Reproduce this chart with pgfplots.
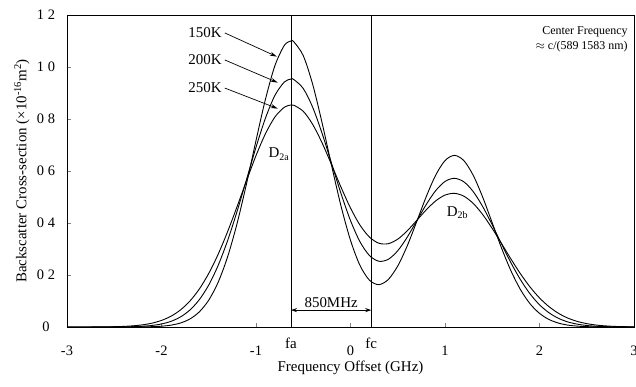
\documentclass[border=0pt]{standalone}
\usepackage{amsmath}
\usepackage{fontspec}
\setmainfont{Liberation Serif}
\usepackage{pgfplots}
\usepackage{pgfplotstable}
\pgfplotsset{compat=1.18}
\usetikzlibrary{arrows.meta}

\pgfplotstableread{
x a b c
-3.0 0 0 0
-2.8 0 0 0.0001
-2.6 0 0.0001 0.0006
-2.5 0 0.0003 0.0012
-2.4 0.0001 0.0006 0.0024
-2.3 0.0002 0.0014 0.0046
-2.2 0.0005 0.0029 0.0084
-2.1 0.0013 0.0060 0.0148
-2.0 0.0031 0.0117 0.0253
-1.9 0.0071 0.0217 0.0414
-1.8 0.0153 0.0385 0.0654
-1.7 0.0307 0.0651 0.0995
-1.6 0.0582 0.1050 0.1460
-1.5 0.1033 0.1616 0.2061
-1.4 0.1725 0.2374 0.2802
-1.3 0.2705 0.3328 0.3672
-1.2 0.3985 0.4450 0.4633
-1.1 0.5515 0.5678 0.5631
-1.0 0.7171 0.6914 0.6592
-0.9 0.8759 0.8033 0.7434
-0.8 1.0050 0.8907 0.8076
-0.7 1.0833 0.9424 0.8454
-0.63 1.1000 0.9535 0.8539
-0.6 1.0970 0.9517 0.8529
-0.5 1.0436 0.9174 0.8296
-0.4 0.9330 0.8448 0.7791
-0.3 0.7842 0.7441 0.7076
-0.2 0.6206 0.6287 0.6239
-0.1 0.4646 0.5129 0.5374
0.0 0.3333 0.4094 0.4576
0.1 0.2370 0.3281 0.3921
0.2 0.1803 0.2751 0.3460
0.3 0.1630 0.2529 0.3222
0.4 0.1828 0.2604 0.3205
0.5 0.2347 0.2934 0.3379
0.6 0.3118 0.3453 0.3698
0.7 0.4047 0.4075 0.4095
0.8 0.5000 0.4703 0.4500
0.9 0.5831 0.5238 0.4846
1.0 0.6400 0.5597 0.5073
1.1 0.6601 0.5719 0.5141
1.2 0.6397 0.5582 0.5031
1.3 0.5824 0.5201 0.4748
1.4 0.4982 0.4625 0.4320
1.5 0.4003 0.3924 0.3788
1.6 0.3021 0.3178 0.3198
1.7 0.2143 0.2456 0.2602
1.8 0.1428 0.1811 0.2039
1.9 0.0893 0.1274 0.1539
2.0 0.0525 0.0855 0.1119
2.1 0.0290 0.0548 0.0784
2.2 0.0151 0.0335 0.0528
2.3 0.0073 0.0195 0.0343
2.4 0.0034 0.0109 0.0215
2.5 0.0014 0.0058 0.0130
2.6 0.0006 0.0029 0.0075
2.7 0.0002 0.0014 0.0042
2.8 0.0001 0.0007 0.0023
2.9 0 0.0003 0.0012
3.0 0 0.0001 0.0006
}\datatable

\begin{document}
\begin{tikzpicture}
\begin{axis}[
  scale only axis, width=567bp, height=312bp,
  xmin=-3, xmax=3, ymin=0, ymax=1.2,
  xtick={-3,-2,-1,0,1,2,3},
  xticklabels={-3,-2,-1,0,1,2,3},
  ytick={0,0.2,0.4,0.6,0.8,1.0,1.2},
  yticklabels={0,0 2,0 4,0 6,0 8,1 0,1 2},
  tick align=inside, xtick pos=bottom, ytick pos=left,
  major tick length=4bp,
  ticklabel style={font=\fontsize{14.5}{16}\selectfont},
  xticklabel style={yshift=-15bp},
  yticklabel style={anchor=center, xshift=-21bp},
  xlabel={Frequency Offset (GHz)},
  ylabel={Backscatter Cross-section (\texttimes10\textsuperscript{-16}m\textsuperscript{2})},
  label style={font=\fontsize{15}{18}\selectfont},
  xlabel style={at={(axis description cs:0.5,-0.1314)}, anchor=center},
  ylabel style={at={(axis description cs:-0.0794,0.5)}, anchor=center},
  axis line style={line width=0.8bp},
  clip=false,
]
\addplot[black, line width=0.9bp, smooth, no marks] table[x=x, y=a] {\datatable};
\addplot[black, line width=0.9bp, smooth, no marks] table[x=x, y=b] {\datatable};
\addplot[black, line width=0.9bp, smooth, no marks] table[x=x, y=c] {\datatable};
\draw[line width=0.8bp] (axis cs:-0.63,0) -- (axis cs:-0.63,1.2);
\draw[line width=0.8bp] (axis cs:0.22,0) -- (axis cs:0.22,1.2);
\draw[line width=0.7bp, {Stealth[length=6bp,width=4bp]}-{Stealth[length=6bp,width=4bp]}] (axis cs:-0.63,0.065) -- (axis cs:0.22,0.065);
\node[font=\fontsize{15}{18}\selectfont] at (axis cs:-0.205,0.095) {850MHz};
\node[font=\fontsize{15}{18}\selectfont, anchor=center] at (axis cs:-1.54,1.131) {150K};
\node[font=\fontsize{15}{18}\selectfont, anchor=center] at (axis cs:-1.54,1.027) {200K};
\node[font=\fontsize{15}{18}\selectfont, anchor=center] at (axis cs:-1.54,0.919) {250K};
\draw[line width=0.7bp, -{Stealth[length=7bp,width=4bp]}] (axis cs:-1.33,1.131) -- (axis cs:-0.78,1.04);
\draw[line width=0.7bp, -{Stealth[length=7bp,width=4bp]}] (axis cs:-1.33,1.027) -- (axis cs:-0.77,0.94);
\draw[line width=0.7bp, -{Stealth[length=7bp,width=4bp]}] (axis cs:-1.33,0.919) -- (axis cs:-0.77,0.84);
\node[font=\fontsize{15}{18}\selectfont, anchor=east, inner sep=1bp] at (axis cs:-0.64,0.665) {D\raisebox{-0.35ex}{\fontsize{10}{12}\selectfont 2a}};
\node[font=\fontsize{15}{18}\selectfont, anchor=center] at (axis cs:1.13,0.44) {D\raisebox{-0.35ex}{\fontsize{10}{12}\selectfont 2b}};
\node[font=\fontsize{12}{15}\selectfont, anchor=east] at (axis cs:2.97,1.135) {Center Frequency};
\node[font=\fontsize{12}{15}\selectfont, anchor=east] at (axis cs:2.97,1.077) {$\approx$ c/(589 1583 nm)};
\node[font=\fontsize{15}{18}\selectfont] at ([yshift=-16bp]axis cs:-0.63,0) {fa};
\node[font=\fontsize{15}{18}\selectfont] at ([yshift=-16bp]axis cs:0.22,0) {fc};
\coordinate (sw) at (rel axis cs:0,0);
\coordinate (ne) at (rel axis cs:1,1);
\end{axis}
\pgfresetboundingbox
\path[use as bounding box] ([xshift=-67bp,yshift=-59bp]sw) rectangle ([xshift=2bp,yshift=15bp]ne);
\end{tikzpicture}
\end{document}
